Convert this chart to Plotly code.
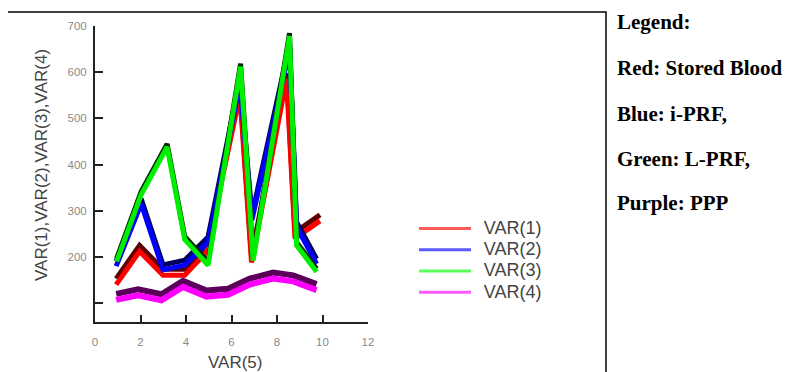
import plotly.graph_objects as go

# ---- data ----
series_names = ["VAR(1)", "VAR(2)", "VAR(3)", "VAR(4)"]

x_var1 = [0.93, 1.96, 2.99, 3.94, 4.90, 6.37, 6.88, 8.42, 8.79, 9.89]
y_var1 = [140, 212, 160, 160, 210, 550, 188, 585, 240, 278]

x_var2 = [0.93, 2.03, 2.99, 3.94, 4.97, 6.37, 6.90, 8.55, 8.86, 9.74]
y_var2 = [180, 315, 172, 182, 232, 575, 280, 650, 265, 185]

x_var3 = [0.95, 2.03, 3.17, 3.94, 4.97, 6.40, 6.95, 8.55, 8.86, 9.74]
y_var3 = [190, 335, 438, 238, 182, 612, 192, 678, 225, 168]

x_var4 = [0.93, 1.89, 2.92, 3.87, 4.90, 5.85, 6.80, 7.83, 8.71, 9.74]
y_var4 = [107, 117, 106, 135, 114, 118, 140, 153, 147, 128]

x_ticks = [0, 2, 4, 6, 8, 10, 12]
y_ticks = [100, 200, 300, 400, 500, 600, 700]
y_ticktext = ["", "200", "300", "400", "500", "600", "700"]

side_notes = ["Legend:", "Red: Stored Blood", "Blue: i-PRF,", "Green: L-PRF,", "Purple: PPP"]

# ---- layout geometry (page pixels; the page body adds an 8px offset) ----
W, H = 790, 372
OFF = 8
PLOT_L, PLOT_R, PLOT_T, PLOT_B = 95, 368, 26, 322  # page px of plot area
ML = PLOT_L - OFF
MR = W - (PLOT_R - OFF)
MT = PLOT_T - OFF
MB = H - (PLOT_B - OFF)
PW = PLOT_R - PLOT_L
PH = PLOT_B - PLOT_T
X_RANGE = [0, 12]
Y_RANGE = [59, 700]
PX_PER_UNIT = PH / (Y_RANGE[1] - Y_RANGE[0])


def px_x(p):
    return (p - PLOT_L) / PW


def px_y(p):
    return (PLOT_B - p) / PH


series = [
    dict(name=series_names[0], x=x_var1, y=y_var1, bright="#ff0000", shadow="#5c0000", legend="#ff5a5a", shift=6, width=5),
    dict(name=series_names[1], x=x_var2, y=y_var2, bright="#0000ff", shadow="#00005c", legend="#5a5aff", shift=5, width=5),
    dict(name=series_names[2], x=x_var3, y=y_var3, bright="#00ee00", shadow="#002a00", legend="#5aff5a", shift=3, width=5),
    dict(name=series_names[3], x=x_var4, y=y_var4, bright="#ff00ff", shadow="#5a005a", legend="#ff5aff", shift=6, width=6),
]

fig = go.Figure()

# legend-only entries (on main axes)
for s in series:
    fig.add_trace(go.Scatter(
        x=[None], y=[None], mode="lines",
        name='\u00a0\u00a0<span style="font-size:18px">' + s["name"] + "</span>",
        line=dict(color=s["legend"], width=3), showlegend=True))

layout_axes = {}
for i, s in enumerate(series):
    n_sh = 2 + 2 * i
    n_br = 3 + 2 * i
    d = s["shift"] / PX_PER_UNIT
    fig.add_trace(go.Scatter(x=s["x"], y=s["y"], mode="lines", showlegend=False,
                             line=dict(color=s["shadow"], width=s["width"]),
                             xaxis=f"x{n_sh}", yaxis=f"y{n_sh}", hoverinfo="skip"))
    fig.add_trace(go.Scatter(x=s["x"], y=s["y"], mode="lines", showlegend=False,
                             line=dict(color=s["bright"], width=s["width"]),
                             xaxis=f"x{n_br}", yaxis=f"y{n_br}", name=s["name"]))
    layout_axes[f"xaxis{n_sh}"] = dict(overlaying="x", range=X_RANGE, visible=False, anchor=f"y{n_sh}")
    layout_axes[f"yaxis{n_sh}"] = dict(overlaying="y", range=[Y_RANGE[0] - d, Y_RANGE[1] - d], visible=False, anchor=f"x{n_sh}")
    layout_axes[f"xaxis{n_br}"] = dict(overlaying="x", range=X_RANGE, visible=False, anchor=f"y{n_br}")
    layout_axes[f"yaxis{n_br}"] = dict(overlaying="y", range=Y_RANGE, visible=False, anchor=f"x{n_br}")

tick_font = dict(family="Liberation Sans, Arial", size=11.5, color="#8a8a8a")

annotations = [
    dict(text="VAR(1),VAR(2),VAR(3),VAR(4)", textangle=-90, x=px_x(41), y=px_y(165),
         xref="paper", yref="paper", showarrow=False, xanchor="center", yanchor="middle",
         font=dict(family="Liberation Sans, Arial", size=17, color="#444444")),
    dict(text="VAR(5)", x=px_x(235), y=px_y(362), xref="paper", yref="paper", showarrow=False,
         xanchor="center", yanchor="middle",
         font=dict(family="Liberation Sans, Arial", size=17, color="#444444")),
]
note_y = [22, 68, 114, 159, 203]
for t, yy in zip(side_notes, note_y):
    annotations.append(dict(text=f"<b>{t}</b>", x=px_x(615), y=px_y(yy), xref="paper", yref="paper",
                            showarrow=False, xanchor="left", yanchor="middle",
                            font=dict(family="Liberation Serif, Times New Roman", size=21, color="#000000")))

fig.update_layout(
    width=W, height=H,
    margin=dict(l=ML, r=MR, t=MT, b=MB),
    paper_bgcolor="white", plot_bgcolor="white",
    xaxis=dict(range=X_RANGE, tickvals=x_ticks, ticks="inside", ticklen=7, tickwidth=2, tickcolor="#222222",
               showline=True, linecolor="#222222", linewidth=2, showgrid=False, zeroline=False,
               tickfont=tick_font, ticklabelstandoff=8),
    yaxis=dict(range=Y_RANGE, tickvals=y_ticks, ticktext=y_ticktext, ticks="inside", ticklen=8, tickwidth=2,
               tickcolor="#222222", showline=True, linecolor="#222222", linewidth=2, showgrid=False,
               zeroline=False, tickfont=tick_font, ticklabelstandoff=4),
    legend=dict(x=px_x(414), y=px_y(213), xanchor="left", yanchor="top", bgcolor="rgba(0,0,0,0)",
                font=dict(family="Liberation Sans, Arial", size=14, color="#444444"), itemwidth=52),
    annotations=annotations,
    shapes=[dict(type="rect", xref="paper", yref="paper", x0=px_x(7), x1=px_x(606), y0=px_y(420), y1=px_y(12),
                 line=dict(color="#000000", width=1.5), fillcolor="rgba(0,0,0,0)", layer="below")],
    **layout_axes,
)

fig.write_html("out.html")
